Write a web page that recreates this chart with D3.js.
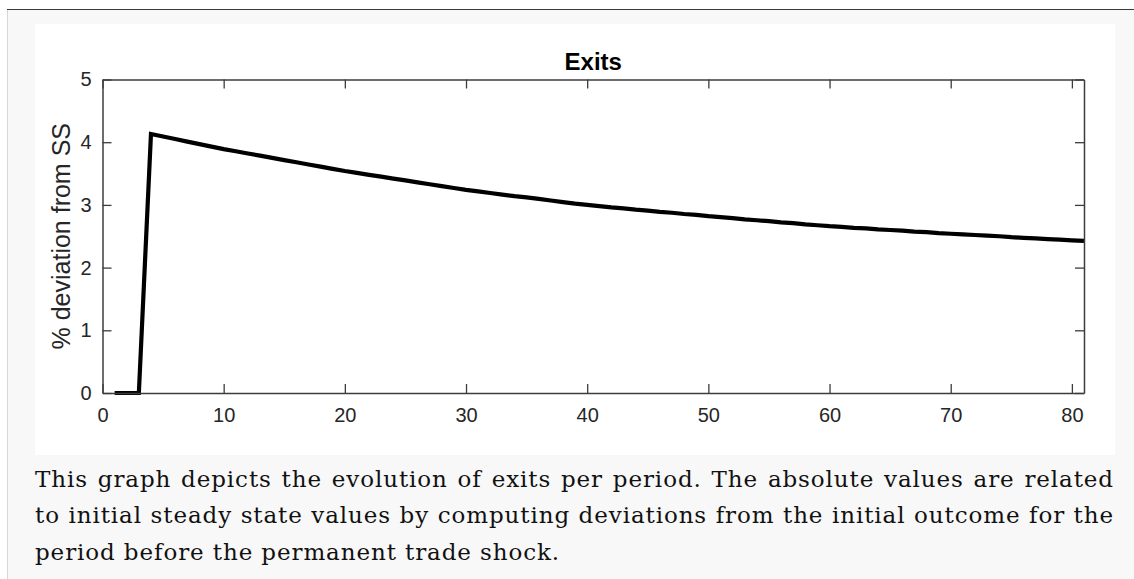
<!DOCTYPE html>
<html>
<head>
<meta charset="utf-8">
<script src="https://cdn.jsdelivr.net/npm/d3@7"></script>
<style>
  html, body { margin: 0; padding: 0; background: #ffffff; }
  svg { display: block; }
</style>
</head>
<body>
<svg id="chart" width="1134" height="579"></svg>
<script>
// ---- data ----
const titleText = "Exits";
const yLabel = "% deviation from SS";
const periods = d3.range(1, 82); // periods 1..81
const exitsDev = [
  0, 0, 0, 4.13, 4.09, 4.05, 4.01, 3.97, 3.93, 3.89,
  3.855, 3.82, 3.785, 3.75, 3.715, 3.68, 3.645, 3.61, 3.575, 3.54,
  3.51, 3.48, 3.45, 3.42, 3.39, 3.36, 3.33, 3.30, 3.27, 3.24,
  3.215, 3.19, 3.165, 3.14, 3.12, 3.095, 3.07, 3.045, 3.02, 3.00,
  2.98, 2.96, 2.945, 2.925, 2.91, 2.89, 2.875, 2.855, 2.84, 2.82,
  2.805, 2.79, 2.77, 2.755, 2.74, 2.72, 2.71, 2.69, 2.675, 2.66,
  2.65, 2.635, 2.625, 2.61, 2.60, 2.59, 2.575, 2.565, 2.55, 2.54,
  2.53, 2.52, 2.51, 2.50, 2.485, 2.475, 2.465, 2.455, 2.445, 2.435,
  2.425
];
const xTicks = [0, 10, 20, 30, 40, 50, 60, 70, 80];
const yTicks = [0, 1, 2, 3, 4, 5];
const xDomain = [0, 81];
const yDomain = [0, 5];
const captionLines = [
  "This graph depicts the evolution of exits per period. The absolute values are related",
  "to initial steady state values by computing deviations from the initial outcome for the",
  "period before the permanent trade shock."
];

// ---- layout ----
const svg = d3.select("#chart");
const W = 1134, H = 579;
const plot = { left: 102.5, right: 1084, top: 79.5, bottom: 393 };

// page frame
svg.append("rect").attr("x", 0).attr("y", 0).attr("width", W).attr("height", H).attr("fill", "#ffffff");
svg.append("rect").attr("x", 8).attr("y", 9).attr("width", W - 8).attr("height", H - 9).attr("fill", "#f8f8f8");
svg.append("line").attr("x1", 7.5).attr("x2", 7.5).attr("y1", 9).attr("y2", H).attr("stroke", "#d8d8d8").attr("stroke-width", 1);
svg.append("line").attr("x1", 7).attr("x2", W).attr("y1", 9.5).attr("y2", 9.5).attr("stroke", "#3a3a3a").attr("stroke-width", 1.2);
// white figure area
svg.append("rect").attr("x", 35).attr("y", 24).attr("width", 1080).attr("height", 431).attr("fill", "#ffffff");

const x = d3.scaleLinear().domain(xDomain).range([plot.left, plot.right]);
const y = d3.scaleLinear().domain(yDomain).range([plot.bottom, plot.top]);

const axisColor = "#3c3c3c";
const textColor = "#262626";
const tickLen = 9;
const tickFont = "Liberation Sans, Arial, Helvetica, sans-serif";

// data line (clipped at right edge)
svg.append("clipPath").attr("id", "clipR")
  .append("rect").attr("x", plot.left - 20).attr("y", 0).attr("width", plot.right - plot.left + 20).attr("height", H);

const data = periods.map((p, i) => ({ p, v: exitsDev[i] }));
const line = d3.line().x(d => x(d.p)).y(d => y(d.v));

svg.append("path")
  .datum(data)
  .attr("d", line)
  .attr("fill", "none")
  .attr("stroke", "#000000")
  .attr("stroke-width", 4.2)
  .attr("stroke-linejoin", "miter")
  .attr("stroke-linecap", "butt")
  .attr("clip-path", "url(#clipR)");

// axes (box with inward ticks on all four sides)
const gBottom = svg.append("g").attr("transform", `translate(0,${plot.bottom})`)
  .call(d3.axisBottom(x).tickValues(xTicks).tickSizeInner(-tickLen).tickSizeOuter(0).tickPadding(15).tickFormat(d3.format("d")));
const gTop = svg.append("g").attr("transform", `translate(0,${plot.top})`)
  .call(d3.axisTop(x).tickValues(xTicks).tickSizeInner(-tickLen).tickSizeOuter(0).tickFormat(""));
const gLeft = svg.append("g").attr("transform", `translate(${plot.left},0)`)
  .call(d3.axisLeft(y).tickValues(yTicks).tickSizeInner(-tickLen).tickSizeOuter(0).tickPadding(11).tickFormat(d3.format("d")));
const gRight = svg.append("g").attr("transform", `translate(${plot.right},0)`)
  .call(d3.axisRight(y).tickValues(yTicks).tickSizeInner(-tickLen).tickSizeOuter(0).tickFormat(""));

[gBottom, gTop, gLeft, gRight].forEach(g => {
  g.select(".domain").attr("stroke", axisColor).attr("stroke-width", 1.5);
  g.selectAll(".tick line").attr("stroke", axisColor).attr("stroke-width", 1.3);
  g.selectAll(".tick text").attr("fill", textColor).attr("font-family", tickFont).attr("font-size", 20);
});

// title
svg.append("text")
  .attr("x", (plot.left + plot.right) / 2)
  .attr("y", 70)
  .attr("text-anchor", "middle")
  .attr("font-family", tickFont)
  .attr("font-weight", "bold")
  .attr("font-size", 24)
  .attr("fill", "#000000")
  .text(titleText);

// y label
svg.append("text")
  .attr("transform", `translate(69.5,${(plot.top + plot.bottom) / 2}) rotate(-90)`)
  .attr("text-anchor", "middle")
  .attr("font-family", tickFont)
  .attr("font-size", 25)
  .attr("fill", textColor)
  .text(yLabel);

// caption: justified lines
const capBase = [486.5, 523, 559.5];
const capLeft = 35, capTarget = 1079, lastLineWidth = 525;
const capTexts = captionLines.map((t, i) => svg.append("text")
    .attr("x", capLeft)
    .attr("y", capBase[i])
    .attr("font-family", "DejaVu Serif, Liberation Serif, serif")
    .attr("font-size", 23)
    .attr("fill", "#111111")
    .text(t));
// letter spacing from the (unjustified) last line
const last = capTexts[capTexts.length - 1];
const lastNat = last.node().getComputedTextLength();
const ls = (lastLineWidth - lastNat) / captionLines[captionLines.length - 1].length;
capTexts.forEach(tx => tx.attr("letter-spacing", ls));
capTexts.slice(0, -1).forEach((tx, i) => {
  const nat = tx.node().getComputedTextLength();
  const spaces = (captionLines[i].match(/ /g) || []).length;
  tx.attr("word-spacing", (capTarget - nat) / spaces);
});
</script>
</body>
</html>
